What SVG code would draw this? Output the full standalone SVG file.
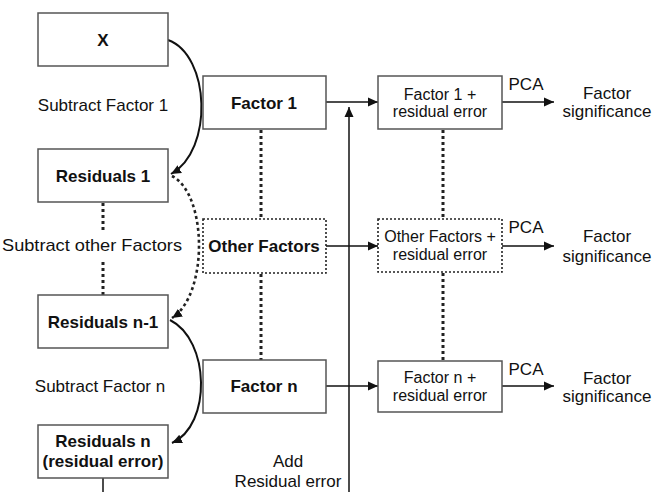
<svg xmlns="http://www.w3.org/2000/svg" width="653" height="492" viewBox="0 0 653 492">
<style>
text{font-family:"Liberation Sans",Arial,sans-serif;fill:#111;text-anchor:middle}
.b{font-weight:bold;font-size:17px}
.r{font-size:17px}
.s{font-size:16px}
.box{fill:#fff;stroke:#555;stroke-width:1.5}
.dbox{fill:#fff;stroke:#222;stroke-width:1.6;stroke-dasharray:2,2}
.ln{fill:none;stroke:#111;stroke-width:1.5}
.cv{fill:none;stroke:#111;stroke-width:2}
.dl{fill:none;stroke:#222;stroke-width:3;stroke-dasharray:3,3}
</style>
<defs>
<marker id="ah" viewBox="0 0 10 10" refX="10" refY="5" markerWidth="10" markerHeight="10" markerUnits="userSpaceOnUse" orient="auto">
<path d="M0,0.5 L10,5 L0,9.5 z" fill="#111"/>
</marker>
<marker id="ah2" viewBox="0 0 10 10" refX="10" refY="5" markerWidth="10" markerHeight="10" markerUnits="userSpaceOnUse" orient="auto">
<path d="M0,0.5 L10,5 L0,9.5 z" fill="#111"/>
</marker>
</defs>
<g id="connectors">
<path class="dl" d="M103,203 V232"/>
<path class="dl" d="M103,262 V295"/>
<path class="dl" d="M261,130 V219"/>
<path class="dl" d="M261,274 V360"/>
<path class="dl" d="M443,130 V219"/>
<path class="dl" d="M443,273 V361"/>
<path class="cv" d="M168,40 C210,55 214,150 171,174" marker-end="url(#ah)"/>
<path class="dl" style="stroke-width:2.6" d="M172,176 C208,195 208,295 172,318" marker-end="url(#ah)"/>
<path class="cv" d="M170,320 C210,340 212,425 172,443" marker-end="url(#ah)"/>
<path class="ln" d="M103,478 V492"/>
<path class="ln" d="M326,102 H378" marker-end="url(#ah2)"/>
<path class="ln" d="M326,246 H378" marker-end="url(#ah2)"/>
<path class="ln" d="M326,386 H378" marker-end="url(#ah2)"/>
<path class="ln" d="M349,492 V107" marker-end="url(#ah2)"/>
<path class="ln" d="M502,102 H554" marker-end="url(#ah2)"/>
<path class="ln" d="M502,246 H554" marker-end="url(#ah2)"/>
<path class="ln" d="M502,386 H554" marker-end="url(#ah2)"/>
</g>
<g id="labels">
<text class="r" x="103" y="111">Subtract Factor 1</text>
<text class="r" x="92" y="251" textLength="180" lengthAdjust="spacingAndGlyphs">Subtract other Factors</text>
<text class="r" x="100" y="392">Subtract Factor n</text>
<text class="r" x="288" y="467">Add</text>
<text class="r" x="288" y="487">Residual error</text>
<text class="r" x="526" y="90">PCA</text>
<text class="r" x="526" y="233">PCA</text>
<text class="r" x="526" y="375">PCA</text>
</g>
<g id="n-x"><rect class="box" x="38" y="13" width="130" height="53"/><text class="b" x="103" y="46">X</text></g>
<g id="n-res1"><rect class="box" x="38" y="149" width="130" height="53"/><text class="b" x="103" y="182">Residuals 1</text></g>
<g id="n-resn1"><rect class="box" x="38" y="295" width="130" height="53"/><text class="b" x="103" y="328">Residuals n-1</text></g>
<g id="n-resn"><rect class="box" x="38" y="425" width="130" height="53"/><text class="b" x="103" y="447">Residuals n</text><text class="b" x="103" y="467">(residual error)</text></g>
<g id="n-f1"><rect class="box" x="203" y="76" width="123" height="53"/><text class="b" x="264" y="109">Factor 1</text></g>
<g id="n-of"><rect class="dbox" x="203" y="219" width="123" height="54"/><text class="b" x="264" y="252">Other Factors</text></g>
<g id="n-fn"><rect class="box" x="203" y="360" width="123" height="53"/><text class="b" x="264" y="392">Factor n</text></g>
<g id="n-f1r"><rect class="box" x="378" y="76" width="124" height="53"/><text class="s" x="440" y="100">Factor 1 +</text><text class="s" x="440" y="117">residual error</text></g>
<g id="n-ofr"><rect class="dbox" x="378" y="219" width="124" height="53"/><text class="s" x="440" y="242">Other Factors +</text><text class="s" x="440" y="260">residual error</text></g>
<g id="n-fnr"><rect class="box" x="378" y="361" width="124" height="51"/><text class="s" x="440" y="383">Factor n +</text><text class="s" x="440" y="401">residual error</text></g>
<g id="n-sig1"><text class="r" x="607" y="99">Factor</text><text class="r" x="607" y="117">significance</text></g>
<g id="n-sig2"><text class="r" x="607" y="242">Factor</text><text class="r" x="607" y="262">significance</text></g>
<g id="n-sig3"><text class="r" x="607" y="384">Factor</text><text class="r" x="607" y="402">significance</text></g>
</svg>
